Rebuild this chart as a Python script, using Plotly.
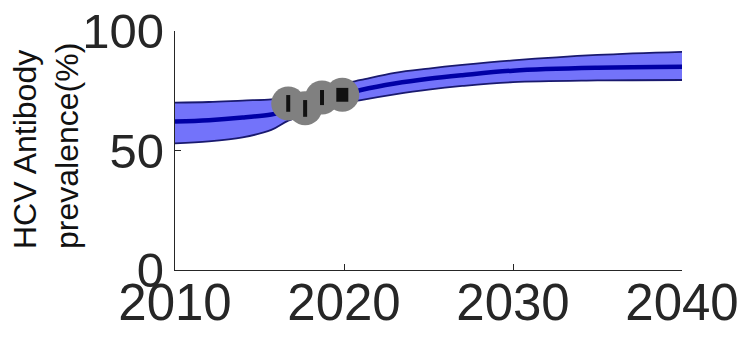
import plotly.graph_objects as go

# Modelled HCV antibody prevalence (%): central estimate and uncertainty band
years = [2010, 2012, 2014, 2015.7, 2016.7, 2018, 2019, 2020, 2021, 2023, 2025, 2027, 2030, 2035, 2040]
mean = [62.1, 62.7, 63.8, 65.1, 66.5, 68.8, 71.5, 73.5, 75.3, 78.0, 80.0, 81.5, 83.4, 84.6, 85.0]
lower = [53.0, 53.8, 55.5, 58.6, 62.5, 65.5, 67.7, 69.7, 71.1, 73.5, 75.5, 77.0, 78.6, 79.3, 79.5]
upper = [70.0, 70.3, 70.9, 71.4, 72.3, 74.0, 76.0, 78.0, 79.5, 82.5, 84.3, 85.8, 87.7, 90.0, 91.3]

# Observed survey points with their intervals
obs_years = [2016.7, 2017.7, 2018.7, 2019.9]
obs_value = [69.7, 67.7, 72.2, 73.3]
obs_low = [66.2, 64.1, 69.0, 70.4]
obs_high = [73.2, 71.1, 75.3, 76.2]

x_ticks = [2010, 2020, 2030, 2040]
y_ticks = [0, 50, 100]

AXIS_COLOR = "#262626"
FONT = "Liberation Sans, Arial, sans-serif"

fig = go.Figure()

# Uncertainty band
fig.add_trace(go.Scatter(x=years, y=lower, mode="lines", line=dict(color="rgb(25,25,110)", width=1.8, shape="spline"),
                         showlegend=False, hoverinfo="skip"))
fig.add_trace(go.Scatter(x=years, y=upper, mode="lines", line=dict(color="rgb(25,25,110)", width=1.8, shape="spline"),
                         fill="tonexty", fillcolor="rgb(115,115,250)", showlegend=False, hoverinfo="skip"))
# Central estimate
fig.add_trace(go.Scatter(x=years, y=mean, mode="lines", line=dict(color="rgb(0,0,165)", width=4.5, shape="spline"),
                         showlegend=False))

# Grey discs behind the observed intervals
fig.add_trace(go.Scatter(x=obs_years, y=obs_value, mode="markers",
                         marker=dict(size=34, color="rgb(128,128,128)", line=dict(width=0)),
                         showlegend=False))

# Observed intervals (first three thin, latest thick)
def interval_trace(idx, thickness):
    xs = [obs_years[i] for i in idx]
    ys = [obs_value[i] for i in idx]
    plus = [obs_high[i] - obs_value[i] for i in idx]
    minus = [obs_value[i] - obs_low[i] for i in idx]
    return go.Scatter(x=xs, y=ys, mode="markers", marker=dict(size=1, color="rgba(0,0,0,0)"),
                      error_y=dict(type="data", array=plus, arrayminus=minus, color="#111111",
                                   thickness=thickness, width=0),
                      showlegend=False)

fig.add_trace(interval_trace([0, 1, 2], 4))
fig.add_trace(interval_trace([3], 12))

fig.update_layout(
    width=743, height=341,
    margin=dict(l=175, r=61, t=31, b=71),
    paper_bgcolor="white", plot_bgcolor="white",
    font=dict(family=FONT, color=AXIS_COLOR),
    xaxis=dict(range=[2010, 2040], tickvals=x_ticks, ticktext=[str(v) for v in x_ticks], automargin=False,
               showgrid=False, zeroline=False, showline=True, linecolor=AXIS_COLOR, linewidth=1.3,
               ticks="inside", ticklen=6, tickcolor=AXIS_COLOR, ticklabelstandoff=-12,
               tickfont=dict(size=51, color=AXIS_COLOR)),
    yaxis=dict(range=[0, 100], tickvals=y_ticks, ticktext=[str(v) for v in y_ticks], automargin=False,
               showgrid=False, zeroline=False, showline=True, linecolor=AXIS_COLOR, linewidth=1.3,
               ticks="inside", ticklen=6, tickcolor=AXIS_COLOR, tickfont=dict(size=49, color=AXIS_COLOR)),
    annotations=[dict(text="HCV Antibody<br>prevalence(%)", textangle=-90, align="left",
                      xref="paper", yref="paper", x=0, y=0, xanchor="center", yanchor="middle",
                      xshift=-129, yshift=124, showarrow=False,
                      font=dict(family=FONT, size=32, color="#111111"))],
)

fig.write_html("out.html")
